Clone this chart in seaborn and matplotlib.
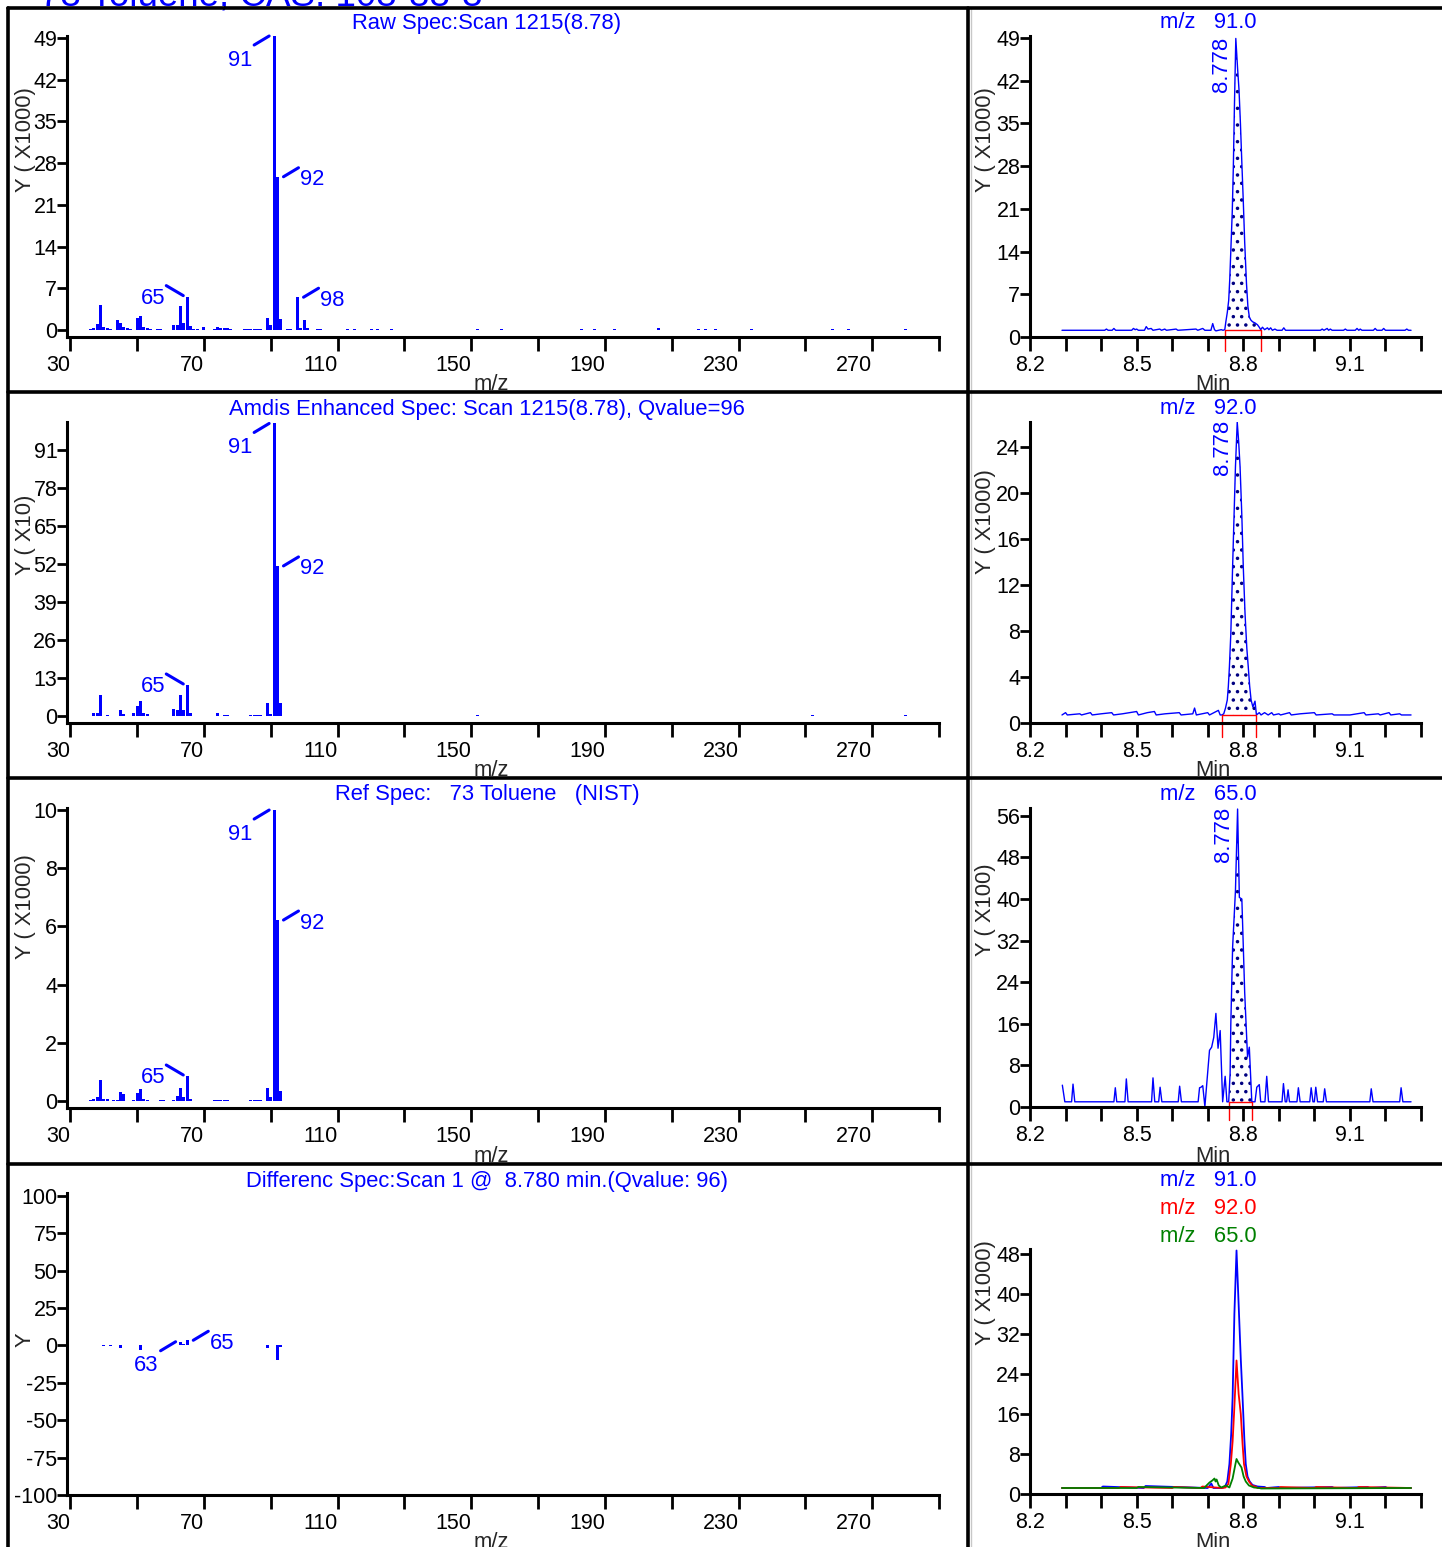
import numpy as np
import pandas as pd
import matplotlib
matplotlib.use('Agg')
import matplotlib.pyplot as plt
import seaborn as sns
from matplotlib.transforms import offset_copy
from matplotlib.lines import Line2D

# ---------------- spectra (m/z, intensity) ----------------
raw_mz = [36, 37, 38, 39, 40, 41, 42, 44, 45, 46,
          47, 48, 50, 51, 52, 53, 54, 56, 57, 61,
          62, 63, 64, 65, 66, 67, 68, 70, 73, 74,
          75, 76, 77, 78, 82, 83, 84, 85, 86, 87,
          89, 90, 91, 92, 93, 95, 96, 98, 99, 100,
          101, 104, 105, 113, 115, 120, 122, 126, 152, 159,
          183, 187, 193, 206, 218, 220, 223, 234, 258, 263,
          280]
raw_int = [0.2, 0.3, 1.0, 4.2, 0.5, 0.3, 0.2, 1.7, 1.2, 0.5,
           0.3, 0.2, 2.0, 2.4, 0.5, 0.3, 0.2, 0.15, 0.15, 0.9,
           0.9, 4.1, 1.2, 5.6, 0.7, 0.2, 0.15, 0.5, 0.2, 0.5,
           0.3, 0.3, 0.3, 0.2, 0.15, 0.2, 0.2, 0.2, 0.2, 0.2,
           2.0, 0.9, 49.3, 25.7, 1.9, 0.15, 0.2, 5.5, 0.3, 1.7,
           0.3, 0.2, 0.2, 0.2, 0.2, 0.2, 0.2, 0.2, 0.2, 0.2,
           0.2, 0.2, 0.2, 0.35, 0.2, 0.2, 0.2, 0.2, 0.2, 0.2,
           0.2]

enh_mz = [37, 38, 39, 41, 45, 46, 49, 50, 51, 52,
          53, 61, 62, 63, 64, 65, 66, 74, 76, 77,
          84, 85, 86, 87, 89, 90, 91, 92, 93, 152,
          252, 280]
enh_int = [1.1, 1.1, 7.2, 0.3, 2.0, 0.6, 0.9, 3.5, 5.2, 1.1,
           0.6, 2.3, 2.0, 7.2, 2.0, 10.6, 1.1, 0.9, 0.4, 0.4,
           0.4, 0.4, 0.5, 0.4, 4.6, 0.6, 100.0, 51.3, 4.3, 0.4,
           0.4, 0.4]

ref_mz = [36, 37, 38, 39, 40, 41, 43, 44, 45, 46,
          49, 50, 51, 52, 53, 57, 58, 61, 62, 63,
          64, 65, 66, 73, 74, 75, 76, 77, 84, 85,
          86, 87, 89, 90, 91, 92, 93]
ref_int = [0.03, 0.06, 0.14, 0.72, 0.06, 0.06, 0.03, 0.05, 0.31, 0.23,
           0.03, 0.26, 0.42, 0.08, 0.04, 0.02, 0.02, 0.05, 0.17, 0.44,
           0.14, 0.86, 0.07, 0.02, 0.04, 0.03, 0.02, 0.03, 0.02, 0.03,
           0.04, 0.03, 0.44, 0.15, 10.0, 6.22, 0.34]

diff_mz = [38, 39, 40, 41, 42, 44, 45, 46, 50, 51,
           52, 61, 62, 63, 64, 65, 66, 89, 90, 91,
           92, 93]
diff_int = [0.4, 0.3, -0.4, 0.3, -0.3, 0.4, -1.8, 0.4, 0.4, -2.9,
            0.4, 0.4, 0.6, 2.5, 0.8, 3.5, 0.5, -1.6, 0.4, 0.4,
            -10.0, -1.0]

# ---------------- chromatograms (min, intensity) ----------------
c91_t_pre = [8.290, 8.410, 8.415, 8.420, 8.431, 8.436, 8.441, 8.486, 8.491, 8.496,
             8.500, 8.505, 8.522, 8.527, 8.532, 8.541, 8.546, 8.565, 8.570, 8.579,
             8.584, 8.611, 8.616, 8.667, 8.672, 8.686, 8.692, 8.709, 8.714, 8.719,
             8.723, 8.738, 8.743]
c91_v_pre = [1.1, 1.1, 1.3, 1.1, 1.1, 1.4, 1.1, 1.1, 1.4, 1.2,
             1.3, 1.1, 1.1, 1.7, 1.3, 1.4, 1.1, 1.3, 1.1, 1.3,
             1.1, 1.3, 1.1, 1.3, 1.1, 1.4, 1.1, 1.1, 2.2, 1.2,
             1.0, 1.2, 1.1]
c91_t_pk = [8.748, 8.751, 8.755, 8.759, 8.762, 8.765, 8.769, 8.772, 8.775, 8.779,
            8.784, 8.788, 8.792, 8.796, 8.800, 8.804, 8.809, 8.813, 8.817, 8.821,
            8.826, 8.833, 8.840, 8.845, 8.849]
c91_v_pk = [1.2, 2.5, 4.0, 6.0, 9.5, 14.2, 20.5, 27.7, 37.5, 48.9,
            44.0, 40.5, 35.0, 28.5, 22.3, 15.5, 8.8, 5.0, 3.3, 2.8,
            2.5, 2.3, 2.0, 1.6, 1.2]
c91_t_post = [8.854, 8.860, 8.868, 8.872, 8.877, 8.882, 8.889, 8.895, 8.909, 8.914,
              8.919, 9.017, 9.022, 9.027, 9.036, 9.040, 9.045, 9.050, 9.082, 9.087,
              9.092, 9.115, 9.120, 9.125, 9.129, 9.134, 9.166, 9.171, 9.176, 9.190,
              9.195, 9.200, 9.255, 9.260, 9.265, 9.272]
c91_v_post = [1.6, 1.2, 1.5, 1.2, 1.5, 1.1, 1.3, 1.1, 1.1, 1.5,
              1.1, 1.1, 1.3, 1.1, 1.4, 1.1, 1.3, 1.1, 1.1, 1.3,
              1.1, 1.1, 1.4, 1.1, 1.3, 1.1, 1.1, 1.4, 1.1, 1.1,
              1.4, 1.1, 1.1, 1.3, 1.1, 1.1]

c92_t_pre = [8.290, 8.300, 8.305, 8.340, 8.345, 8.370, 8.375, 8.400, 8.430, 8.435,
             8.460, 8.500, 8.505, 8.530, 8.550, 8.555, 8.580, 8.620, 8.625, 8.658,
             8.663, 8.668, 8.700, 8.705, 8.730, 8.735]
c92_v_pre = [0.7, 0.9, 0.7, 0.8, 0.7, 0.9, 0.7, 0.8, 0.9, 0.7,
             0.8, 1.0, 0.7, 0.9, 1.0, 0.7, 0.8, 0.9, 0.7, 0.8,
             1.3, 0.7, 0.9, 0.7, 1.1, 0.7]
c92_t_pk = [8.740, 8.745, 8.750, 8.755, 8.758, 8.761, 8.765, 8.770, 8.774, 8.778,
            8.783, 8.787, 8.791, 8.796, 8.800, 8.805, 8.810, 8.814, 8.818, 8.822,
            8.827, 8.833, 8.837]
c92_v_pk = [0.7, 0.8, 1.3, 2.0, 3.2, 4.9, 7.8, 13.6, 18.0, 22.3,
            26.2, 24.5, 22.3, 18.0, 13.6, 9.5, 6.5, 4.9, 3.2, 2.0,
            1.4, 1.9, 0.7]
c92_t_post = [8.845, 8.850, 8.860, 8.865, 8.870, 8.880, 8.885, 8.900, 8.905, 8.930,
              8.935, 8.960, 9.000, 9.005, 9.050, 9.055, 9.100, 9.140, 9.145, 9.180,
              9.185, 9.210, 9.215, 9.240, 9.245, 9.272]
c92_v_post = [0.9, 0.7, 0.9, 0.8, 0.7, 0.9, 0.7, 0.8, 0.7, 0.9,
              0.7, 0.8, 0.9, 0.7, 0.8, 0.7, 0.7, 0.9, 0.7, 0.8,
              0.7, 0.9, 0.7, 0.8, 0.7, 0.7]

c65_t_pre = [8.291, 8.298, 8.317, 8.321, 8.326, 8.436, 8.440, 8.444, 8.467, 8.471,
             8.476, 8.542, 8.546, 8.551, 8.562, 8.566, 8.571, 8.617, 8.621, 8.626,
             8.673, 8.677, 8.681, 8.686, 8.692, 8.705, 8.711, 8.717, 8.723, 8.729,
             8.735, 8.742, 8.749, 8.754]
c65_v_pre = [4.2, 1.0, 1.0, 4.4, 1.0, 1.0, 3.7, 1.0, 1.0, 5.4,
             1.0, 1.0, 5.6, 1.0, 1.0, 3.8, 1.0, 1.0, 4.0, 1.0,
             1.0, 3.7, 3.8, 4.1, 0.1, 10.9, 11.5, 13.4, 18.0, 11.3,
             14.7, 1.0, 5.9, 1.0]
c65_t_pk = [8.759, 8.763, 8.765, 8.770, 8.778, 8.784, 8.789, 8.796, 8.804, 8.812,
            8.817, 8.824]
c65_v_pk = [1.0, 6.5, 16.1, 30.7, 41.6, 57.3, 40.3, 40.0, 22.0, 9.6,
            11.5, 1.0]
c65_t_post = [8.833, 8.838, 8.845, 8.849, 8.861, 8.866, 8.871, 8.909, 8.913, 8.918,
              8.922, 8.926, 8.930, 8.951, 8.955, 8.960, 8.987, 8.991, 8.996, 9.000,
              9.004, 9.009, 9.025, 9.029, 9.034, 9.156, 9.160, 9.165, 9.240, 9.244,
              9.249, 9.272]
c65_v_post = [1.0, 3.8, 4.3, 1.0, 1.0, 5.9, 1.0, 1.0, 4.5, 1.0,
              1.0, 3.3, 1.0, 1.0, 3.7, 1.0, 1.0, 3.7, 1.0, 1.0,
              3.8, 1.0, 1.0, 3.5, 1.0, 1.0, 3.5, 1.0, 1.0, 3.7,
              1.0, 1.0]

ov_blue_t = [8.290, 8.400, 8.405, 8.520, 8.525, 8.700, 8.710, 8.716, 8.740, 8.748,
             8.755, 8.761, 8.766, 8.770, 8.775, 8.781, 8.788, 8.793, 8.798, 8.803,
             8.807, 8.812, 8.818, 8.826, 8.840, 8.860, 8.865, 8.900, 8.905, 9.050,
             9.055, 9.150, 9.155, 9.200, 9.205, 9.272]
ov_blue_v = [1.2, 1.2, 1.5, 1.2, 1.6, 1.2, 2.1, 1.2, 1.2, 1.4,
             2.5, 6.0, 12.0, 19.3, 36.0, 48.7, 36.0, 27.0, 19.3, 11.0,
             6.0, 3.5, 2.5, 1.8, 1.5, 1.4, 1.2, 1.4, 1.2, 1.4,
             1.2, 1.4, 1.2, 1.4, 1.2, 1.2]
ov_red_t = [8.290, 8.450, 8.455, 8.600, 8.605, 8.680, 8.685, 8.740, 8.750, 8.758,
            8.765, 8.770, 8.774, 8.781, 8.787, 8.793, 8.798, 8.802, 8.809, 8.816,
            8.826, 8.835, 8.840, 8.900, 8.905, 9.000, 9.005, 9.120, 9.125, 9.272]
ov_red_v = [1.2, 1.2, 1.4, 1.2, 1.4, 1.2, 1.5, 1.2, 1.3, 2.0,
            6.0, 10.5, 16.0, 26.7, 20.0, 16.0, 10.0, 6.0, 3.5, 2.5,
            1.6, 1.5, 1.2, 1.2, 1.4, 1.2, 1.4, 1.2, 1.4, 1.2]
ov_green_t = [8.290, 8.500, 8.505, 8.690, 8.698, 8.705, 8.713, 8.719, 8.722, 8.725,
              8.731, 8.738, 8.751, 8.761, 8.770, 8.778, 8.781, 8.786, 8.795, 8.801,
              8.807, 8.816, 8.830, 8.845, 8.850, 9.272]
ov_green_v = [1.2, 1.2, 1.4, 1.2, 1.8, 2.3, 2.7, 3.1, 2.5, 2.9,
              1.7, 1.3, 1.7, 1.3, 3.1, 6.0, 7.0, 6.3, 5.3, 3.5,
              2.5, 1.7, 1.3, 1.2, 1.1, 1.2]

# ---------------- figure ----------------
sns.set_theme(style='ticks')
plt.rcParams['font.family'] = ['Liberation Sans', 'DejaVu Sans']
plt.rcParams['hatch.linewidth'] = 1.3

W, H = 1442, 1547
fig = plt.figure(figsize=(W / 100, H / 100), dpi=100)
BLUE = '#0000FF'
FS = 15.8
TFS = 15.5


def add_ax(l, t, r, b):
    return fig.add_axes([l / W, 1 - b / H, (r - l) / W, (b - t) / H])


def ftext(x, y, s, **kw):
    kw.setdefault('fontsize', FS)
    fig.text(x / W, 1 - y / H, s, **kw)


def style(ax):
    ax.set_facecolor('white')
    for side in ['top', 'right']:
        ax.spines[side].set_visible(False)
    for side in ['left', 'bottom']:
        ax.spines[side].set_linewidth(2.2)
        ax.spines[side].set_color('black')
    ax.tick_params(axis='x', which='both', direction='out', length=10, width=2.0,
                   pad=3, labelsize=TFS, colors='black')
    ax.tick_params(axis='y', which='both', direction='out', length=7, width=2.0,
                   pad=0, labelsize=TFS, colors='black')
    ax.set_xlabel('')
    ax.set_ylabel('')


# leader-line/label offsets (pixels): line start, line end, label centre
LEAD = {'L': ((-20, -9), (-5, 0), (-34, -24)),
        'R': ((6, 0), (21, 9), (35, -3)),
        'H': ((-21, 11), (-4, 1), (-34, -2))}


def mark(ax, mz, val, kind):
    (x1, y1), (x2, y2), (lx, ly) = LEAD[kind]
    tr = offset_copy(ax.transData, fig=fig, x=x2, y=y2, units='dots')
    ax.annotate('', xy=(mz, val), xycoords=tr, xytext=(x1 - x2, y1 - y2),
                textcoords='offset pixels', annotation_clip=False,
                arrowprops=dict(arrowstyle='-', color=BLUE, lw=2.2,
                                shrinkA=0, shrinkB=0))
    ax.text(mz, val, str(mz), color=BLUE, fontsize=FS, ha='center', va='center',
            transform=offset_copy(ax.transData, fig=fig, x=lx, y=ly, units='dots'))


spec_rows = [(36, 337), (422, 723), (808, 1108), (1193, 1495)]
chrom_rows = [(36, 337), (422, 723), (808, 1107), (1249, 1494)]

spectra = [
    (raw_mz, raw_int, (-1.17, 49.3), list(range(0, 50, 7)), [(91, 'L'), (92, 'R'), (65, 'H'), (98, 'R')]),
    (enh_mz, enh_int, (-2.4, 100.5), list(range(0, 92, 13)), [(91, 'L'), (92, 'R'), (65, 'H')]),
    (ref_mz, ref_int, (-0.24, 10.07), list(range(0, 11, 2)), [(91, 'L'), (92, 'R'), (65, 'H')]),
    (diff_mz, diff_int, (-100, 102), list(range(-100, 101, 25)), [(63, 'L'), (65, 'R')]),
]

for (t, b), (mz, inten, ylim, yt, marks) in zip(spec_rows, spectra):
    ax = add_ax(67, t, 939, b)
    df = pd.DataFrame({'mz': mz, 'y': inten})
    sns.barplot(data=df, x='mz', y='y', native_scale=True, width=0.9, color=BLUE,
                saturation=1, errorbar=None, linewidth=0, ax=ax)
    ax.set_xlim(29, 290)
    ax.set_ylim(*ylim)
    ax.set_xticks(list(range(30, 271, 40)))
    ax.set_xticklabels([str(v) for v in range(30, 271, 40)], ha='right')
    ax.set_xticks(list(range(50, 291, 40)), minor=True)
    ax.set_yticks(yt)
    ax.set_yticklabels([str(v) for v in yt])
    style(ax)
    lookup = dict(zip(mz, inten))
    for m, kind in marks:
        mark(ax, m, lookup[m], kind)

chroms = [
    ((c91_t_pre, c91_v_pre), (c91_t_pk, c91_v_pk), (c91_t_post, c91_v_post), 49.3, list(range(0, 50, 7))),
    ((c92_t_pre, c92_v_pre), (c92_t_pk, c92_v_pk), (c92_t_post, c92_v_post), 26.2, list(range(0, 25, 4))),
    ((c65_t_pre, c65_v_pre), (c65_t_pk, c65_v_pk), (c65_t_post, c65_v_post), 57.5, list(range(0, 57, 8))),
]


def chrom_axis(ax, ytop, yt):
    ax.set_xlim(8.2, 9.3)
    ax.set_ylim(0, ytop)
    ax.set_xticks([8.2, 8.5, 8.8, 9.1])
    ax.set_xticklabels(['8.2', '8.5', '8.8', '9.1'])
    ax.set_xticks([8.3, 8.4, 8.6, 8.7, 8.9, 9.0, 9.2, 9.3], minor=True)
    ax.set_yticks(yt)
    ax.set_yticklabels([str(v) for v in yt])
    style(ax)


for (t, b), (pre, pk, post, ytop, yt) in zip(chrom_rows[:3], chroms):
    ax = add_ax(1030, t, 1421, b)
    tt = pre[0] + pk[0] + post[0]
    vv = pre[1] + pk[1] + post[1]
    sns.lineplot(x=tt, y=vv, ax=ax, color=BLUE, linewidth=1.0, estimator=None)
    base = pk[1][0]
    ax.fill_between(pk[0], base, pk[1], facecolor='none', edgecolor='#000080',
                    hatch='..', linewidth=0)
    t0, t1 = pk[0][0], pk[0][-1]
    ylo = -0.045 * ytop
    ax.plot([t0, t0, t1, t1], [ylo, base, base, ylo], color='red', lw=1.0,
            clip_on=False)
    chrom_axis(ax, ytop, yt)
    i = int(np.argmax(pk[1]))
    ax.text(pk[0][i], pk[1][i], '8.778', rotation=90, ha='right', va='top',
            color=BLUE, fontsize=FS,
            transform=offset_copy(ax.transData, fig=fig, x=-4, y=2, units='dots'))

# overlay panel
t, b = chrom_rows[3]
ax = add_ax(1030, t, 1421, b)
sns.lineplot(x=ov_blue_t, y=ov_blue_v, ax=ax, color=BLUE, linewidth=1.3, estimator=None)
sns.lineplot(x=ov_red_t, y=ov_red_v, ax=ax, color='red', linewidth=1.3, estimator=None)
sns.lineplot(x=ov_green_t, y=ov_green_v, ax=ax, color='#008000', linewidth=1.3, estimator=None)
chrom_axis(ax, 49, list(range(0, 49, 8)))

# ---------------- texts ----------------
fig.text(40 / W, 1 - 5 / H, '73 Toluene, CAS: 108-88-3', color=BLUE, fontsize=26.5,
         ha='left', va='baseline')

left_titles = ['Raw Spec:Scan 1215(8.78)',
               'Amdis Enhanced Spec: Scan 1215(8.78), Qvalue=96',
               'Ref Spec:   73 Toluene   (NIST)',
               'Differenc Spec:Scan 1 @  8.780 min.(Qvalue: 96)']
for y, s in zip([23, 409, 795, 1181], left_titles):
    ftext(487, y, s, color=BLUE, ha='center', va='center')

for y, s in zip([23, 409, 795], ['m/z   91.0', 'm/z   92.0', 'm/z   65.0']):
    ftext(1208, y, s, color=BLUE, ha='center', va='center')
for y, s, c in zip([1181, 1208, 1236], ['m/z   91.0', 'm/z   92.0', 'm/z   65.0'],
                   [BLUE, 'red', '#008000']):
    ftext(1208, y, s, color=c, ha='center', va='center')

for y, s in zip([140, 535, 907, 1340], ['Y ( X1000)', 'Y ( X10)', 'Y ( X1000)', 'Y']):
    ftext(25, y, s, rotation=90, ha='center', va='center')
for y, s in zip([140, 522, 910, 1293], ['Y ( X1000)', 'Y ( X1000)', 'Y ( X100)', 'Y ( X1000)']):
    ftext(986, y, s, rotation=90, ha='center', va='center')

for y in [385, 771, 1157, 1542]:
    ftext(491, y, 'm/z', ha='center', va='center')
    ftext(1213, y, 'Min', ha='center', va='center')

# ---------------- frame lines ----------------
LW = 2.6
for y in [8, 392, 778, 1164]:
    fig.add_artist(Line2D([8 / W, 1], [1 - y / H, 1 - y / H], color='black', lw=LW, zorder=10))
fig.add_artist(Line2D([968 / W, 968 / W], [0, 1 - 8 / H], color='black', lw=LW, zorder=10))
fig.add_artist(Line2D([8 / W, 8 / W], [0, 1 - 8 / H], color='black', lw=LW, zorder=10))
fig.add_artist(Line2D([971 / W, 971 / W], [0, 1 - 8 / H], color='#c8c8c8', lw=1, zorder=9))

fig.savefig('out.png', dpi=100, facecolor='white')
